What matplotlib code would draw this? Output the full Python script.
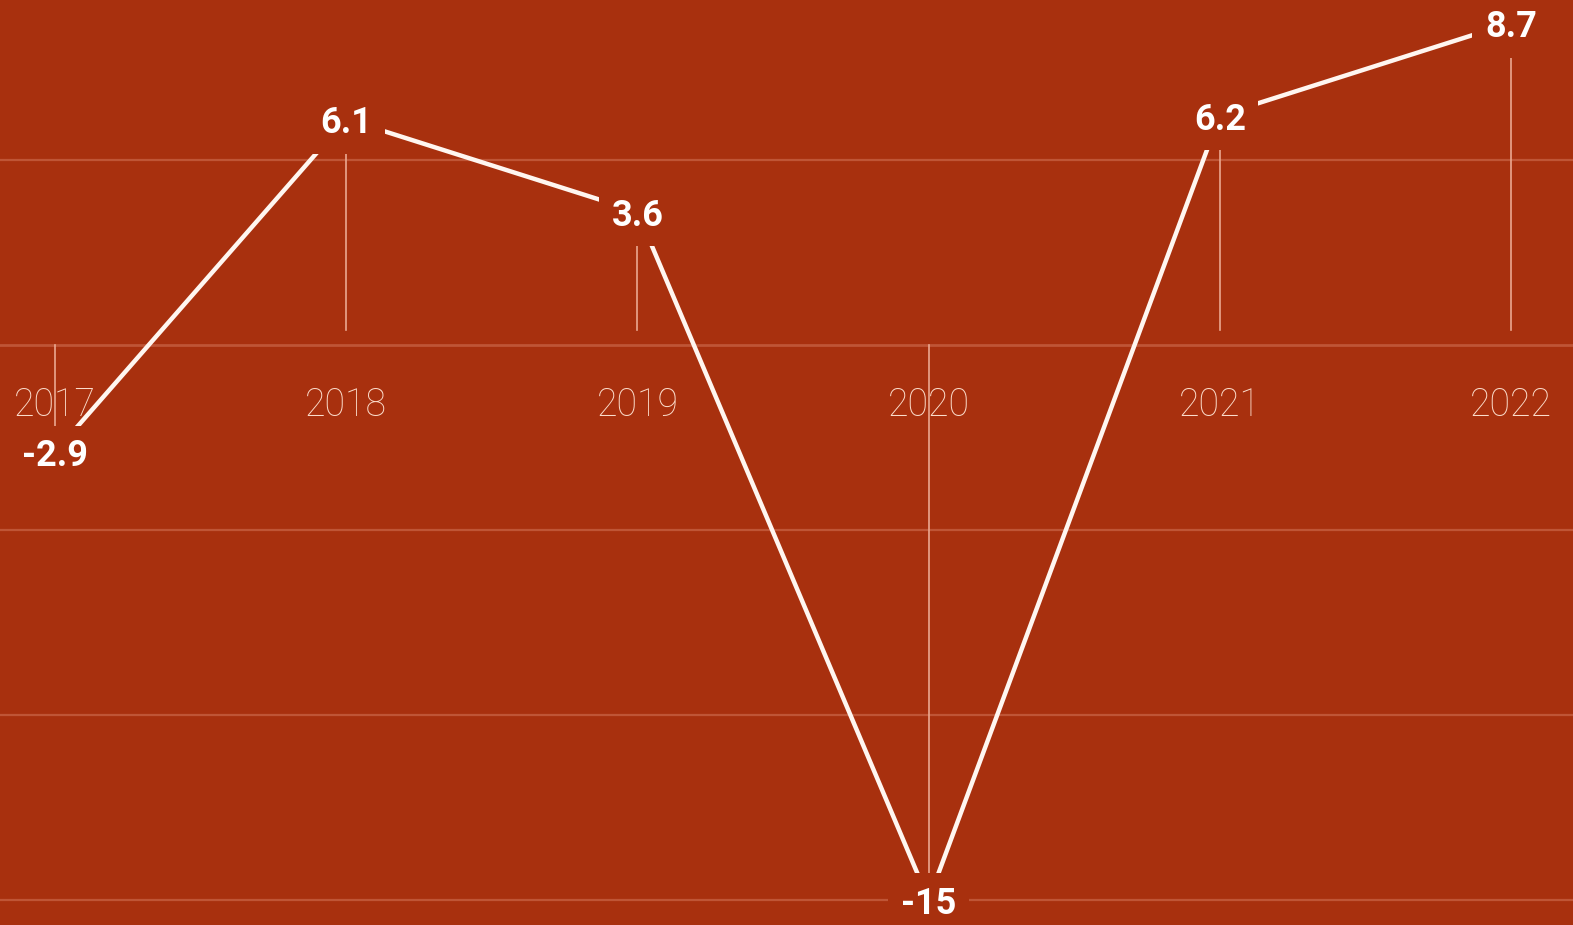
import matplotlib
matplotlib.use("Agg")
import matplotlib.pyplot as plt
from matplotlib import font_manager

years = [2017, 2018, 2019, 2020, 2021, 2022]
values = [-2.9, 6.1, 3.6, -15, 6.2, 8.7]
value_labels = ["-2.9", "6.1", "3.6", "-15", "6.2", "8.7"]
year_labels = ["2017", "2018", "2019", "2020", "2021", "2022"]
grid_values = [5, 0, -5, -10, -15]

names = {f.name for f in font_manager.fontManager.ttflist}
fam = "Roboto" if "Roboto" in names else "Liberation Sans"

BG = "#A8300E"
GRID = "#BF5536"
DROP = "#EBA890"
LINE = "#FFF6F0"
YEARC = "#FBDCCB"

fig = plt.figure(figsize=(15.73, 9.25), dpi=100, facecolor=BG)
ax = fig.add_axes([0, 0, 1, 1])
ax.set_facecolor(BG)
ax.set_xlim(2016.811, 2022.213)
ax.set_ylim(-15.68, 9.32)
ax.axis("off")

for g in grid_values:
    ax.axhline(g, color=GRID, lw=1.6 if g != 0 else 2.0, zorder=1)

for x, v in zip(years, values):
    if v > 0:
        ax.plot([x, x], [0.4, v], color=DROP, lw=1.2, zorder=2)
    else:
        ax.plot([x, x], [0, v], color=DROP, lw=1.2, zorder=2)

ax.plot(years, values, color=LINE, lw=3.2, zorder=3, solid_capstyle="round")

for x, lab in zip(years, year_labels):
    ax.text(x, -1.62, lab, ha="center", va="center", fontsize=27,
            family=fam, fontweight="light", color=YEARC, zorder=4)

for x, v, lab in zip(years, values, value_labels):
    ax.annotate(lab, xy=(x, v), xytext=(0, -3), textcoords="offset points",
                ha="center", va="center", fontsize=26, fontweight="bold",
                family=fam, color="white", zorder=5,
                bbox=dict(boxstyle="square,pad=0.35", facecolor=BG, edgecolor="none"))

fig.savefig("out.png", dpi=100, facecolor=BG)
